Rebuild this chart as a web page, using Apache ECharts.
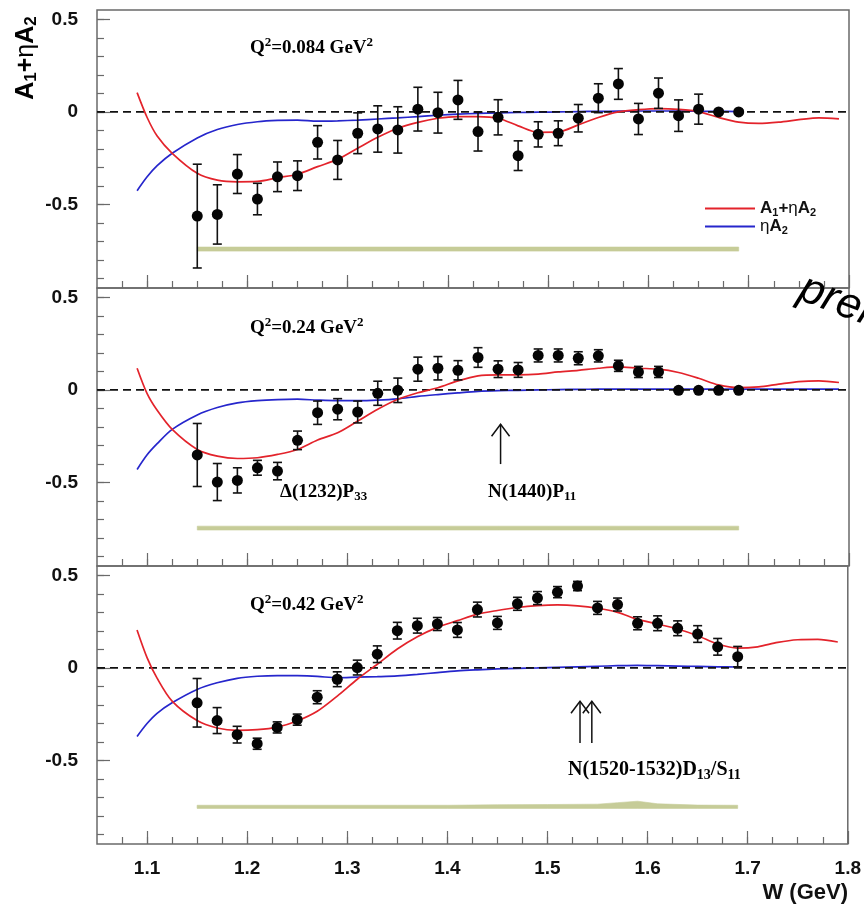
<!DOCTYPE html>
<html>
<head>
<meta charset="utf-8">
<script src="https://cdn.jsdelivr.net/npm/echarts@6/dist/echarts.min.js"></script>
<style>
  html, body { margin: 0; padding: 0; background: #fff; }
  #chart { width: 864px; height: 910px; }
</style>
</head>
<body>
<div id="chart"></div>
<script>
// ---- measured asymmetry points (W in GeV) ----
const W_PTS = [1.15, 1.17, 1.19, 1.21, 1.23, 1.25, 1.27, 1.29, 1.31, 1.33, 1.35, 1.37, 1.39, 1.41,
               1.43, 1.45, 1.47, 1.49, 1.51, 1.53, 1.55, 1.57, 1.59, 1.61, 1.63, 1.65, 1.67, 1.69];

const Q084_VAL = [-0.562, -0.553, -0.335, -0.470, -0.350, -0.344, -0.164, -0.259, -0.115, -0.092,
                  -0.097, 0.015, -0.004, 0.065, -0.106, -0.029, -0.236, -0.121, -0.115, -0.034,
                  0.074, 0.151, -0.038, 0.101, -0.020, 0.015, 0.000, 0.000];
const Q084_ERR = [0.280, 0.160, 0.105, 0.085, 0.080, 0.080, 0.090, 0.105, 0.110, 0.125,
                  0.125, 0.118, 0.110, 0.105, 0.105, 0.095, 0.080, 0.068, 0.067, 0.074,
                  0.078, 0.083, 0.084, 0.082, 0.085, 0.081, 0.010, 0.010];

const Q024_VAL = [-0.351, -0.497, -0.488, -0.420, -0.438, -0.272, -0.123, -0.104, -0.119, -0.018,
                  -0.002, 0.112, 0.117, 0.106, 0.175, 0.112, 0.108, 0.186, 0.186, 0.171,
                  0.184, 0.130, 0.097, 0.097, -0.002, -0.002, -0.002, -0.002];
const Q024_ERR = [0.170, 0.100, 0.068, 0.040, 0.047, 0.050, 0.063, 0.057, 0.059, 0.065,
                  0.066, 0.065, 0.063, 0.052, 0.053, 0.045, 0.040, 0.035, 0.035, 0.035,
                  0.033, 0.030, 0.030, 0.030, 0.010, 0.010, 0.010, 0.010];

const Q042_VAL = [-0.188, -0.284, -0.360, -0.409, -0.321, -0.279, -0.158, -0.061, 0.002, 0.074,
                  0.201, 0.228, 0.237, 0.205, 0.315, 0.243, 0.346, 0.377, 0.409, 0.442,
                  0.324, 0.342, 0.241, 0.241, 0.214, 0.183, 0.114, 0.061];
const Q042_ERR = [0.131, 0.070, 0.045, 0.030, 0.030, 0.030, 0.035, 0.040, 0.040, 0.045,
                  0.045, 0.040, 0.035, 0.040, 0.040, 0.035, 0.035, 0.035, 0.030, 0.025,
                  0.035, 0.035, 0.035, 0.040, 0.040, 0.045, 0.045, 0.055];

// ---- model curves (A1+eta*A2 in red, eta*A2 in blue) ----
const W_MODEL = [1.09, 1.10, 1.11, 1.125, 1.15, 1.17, 1.19, 1.21, 1.23, 1.25, 1.27, 1.29, 1.31,
                 1.33, 1.35, 1.37, 1.39, 1.41, 1.43, 1.45, 1.47, 1.49, 1.51, 1.53, 1.55, 1.57,
                 1.59, 1.61, 1.63, 1.65, 1.67, 1.69, 1.71, 1.73, 1.75, 1.77, 1.79];

const RED_084 = [0.104, -0.030, -0.130, -0.223, -0.331, -0.368, -0.377, -0.375, -0.355, -0.336,
                 -0.295, -0.256, -0.196, -0.137, -0.088, -0.056, -0.034, -0.025, -0.025, -0.034,
                 -0.075, -0.110, -0.108, -0.070, -0.030, 0.000, 0.012, 0.018, 0.014, 0.002,
                 -0.030, -0.055, -0.062, -0.055, -0.042, -0.032, -0.037];
const BLUE_084 = [-0.425, -0.350, -0.290, -0.223, -0.140, -0.095, -0.068, -0.053, -0.046, -0.044,
                  -0.050, -0.048, -0.044, -0.038, -0.032, -0.025, -0.018, -0.012, -0.008, -0.005,
                  -0.003, -0.001, 0.000, 0.002, 0.003, 0.004, 0.005, 0.005, 0.005, 0.004,
                  0.003, 0.002];

const RED_024 = [0.117, -0.020, -0.110, -0.213, -0.321, -0.357, -0.370, -0.366, -0.348, -0.321,
                 -0.270, -0.231, -0.168, -0.104, -0.050, -0.015, 0.012, 0.049, 0.076, 0.081,
                 0.081, 0.085, 0.097, 0.106, 0.117, 0.124, 0.117, 0.112, 0.094, 0.063,
                 0.027, 0.012, 0.016, 0.031, 0.045, 0.049, 0.040];
const BLUE_024 = [-0.429, -0.350, -0.290, -0.213, -0.135, -0.095, -0.070, -0.058, -0.052, -0.050,
                  -0.055, -0.058, -0.058, -0.055, -0.048, -0.035, -0.025, -0.016, -0.008, -0.004,
                  -0.002, 0.000, 0.002, 0.003, 0.004, 0.004, 0.004, 0.004, 0.004, 0.004,
                  0.004, 0.004, 0.004, 0.004, 0.004, 0.004, 0.004];

const RED_042 = [0.205, 0.056, -0.055, -0.179, -0.284, -0.324, -0.337, -0.333, -0.319, -0.286,
                 -0.234, -0.152, -0.061, 0.020, 0.102, 0.168, 0.219, 0.255, 0.290, 0.310,
                 0.326, 0.336, 0.340, 0.335, 0.322, 0.300, 0.262, 0.237, 0.210, 0.174,
                 0.129, 0.107, 0.114, 0.138, 0.152, 0.154, 0.140];
const BLUE_042 = [-0.370, -0.300, -0.245, -0.188, -0.116, -0.080, -0.056, -0.045, -0.041, -0.042,
                  -0.046, -0.053, -0.050, -0.047, -0.043, -0.035, -0.025, -0.016, -0.010, -0.005,
                  -0.002, 0.000, 0.003, 0.006, 0.009, 0.012, 0.014, 0.012, 0.010, 0.008,
                  0.006, 0.005];

// ---- systematic error bands ----
const W_BAND = [1.15, 1.20, 1.25, 1.30, 1.35, 1.40, 1.45, 1.50, 1.55, 1.57, 1.59, 1.61, 1.65, 1.69];
const BAND_084_HI = [-0.729, -0.729, -0.729, -0.729, -0.729, -0.729, -0.729, -0.729, -0.729, -0.729, -0.729, -0.729, -0.729, -0.729];
const BAND_084_LO = [-0.751, -0.751, -0.751, -0.751, -0.751, -0.751, -0.751, -0.751, -0.751, -0.751, -0.751, -0.751, -0.751, -0.751];
const BAND_024_HI = [-0.735, -0.735, -0.735, -0.735, -0.735, -0.735, -0.735, -0.735, -0.735, -0.735, -0.735, -0.735, -0.735, -0.735];
const BAND_024_LO = [-0.756, -0.756, -0.756, -0.756, -0.756, -0.756, -0.756, -0.756, -0.756, -0.756, -0.756, -0.756, -0.756, -0.756];
const BAND_042_HI = [-0.741, -0.741, -0.741, -0.741, -0.741, -0.741, -0.738, -0.737, -0.735, -0.727, -0.719, -0.733, -0.740, -0.741];
const BAND_042_LO = [-0.758, -0.758, -0.758, -0.758, -0.758, -0.758, -0.758, -0.758, -0.758, -0.758, -0.758, -0.758, -0.758, -0.758];

// ---- resonance markers: [W, arrow tail, arrow tip] ----
const ARROWS_024 = [[1.4525, -0.400, -0.185]];
const ARROWS_042 = [[1.5325, -0.405, -0.180], [1.5443, -0.405, -0.180]];

// ---- axis ticks ----
const X_MAJOR = [1.1, 1.2, 1.3, 1.4, 1.5, 1.6, 1.7, 1.8];
const X_MINOR = [1.075, 1.1, 1.125, 1.15, 1.175, 1.2, 1.225, 1.25, 1.275, 1.3, 1.325, 1.35, 1.375,
                 1.4, 1.425, 1.45, 1.475, 1.5, 1.525, 1.55, 1.575, 1.6, 1.625, 1.65, 1.675, 1.7,
                 1.725, 1.75, 1.775];
const Y_MAJOR = [-0.5, 0, 0.5];
const Y_MINOR = [-0.9, -0.8, -0.7, -0.6, -0.5, -0.4, -0.3, -0.2, -0.1, 0, 0.1, 0.2, 0.3, 0.4, 0.5];

const PANELS = [
  { val: Q084_VAL, err: Q084_ERR, red: RED_084, blue: BLUE_084, hi: BAND_084_HI, lo: BAND_084_LO, arrows: [] },
  { val: Q024_VAL, err: Q024_ERR, red: RED_024, blue: BLUE_024, hi: BAND_024_HI, lo: BAND_024_LO, arrows: ARROWS_024 },
  { val: Q042_VAL, err: Q042_ERR, red: RED_042, blue: BLUE_042, hi: BAND_042_HI, lo: BAND_042_LO, arrows: ARROWS_042 }
];

const RED = '#e3232b';
const BLUE = '#2626cc';
const FRAME = '#6a6a6a';
const SANS = '"Liberation Sans", Arial, sans-serif';
const SERIF = '"Liberation Serif", "Times New Roman", serif';

const GRID_TOPS = [10, 288, 566];
const GRID_H = 278;

const grids = GRID_TOPS.map(t => ({
  left: 97, width: 752, top: t, height: GRID_H,
  show: true, borderColor: FRAME, borderWidth: 1.5, backgroundColor: 'transparent'
}));

const xAxes = [];
const yAxes = [];
for (let i = 0; i < 3; i++) {
  xAxes.push({
    type: 'value', gridIndex: i, min: 1.05, max: 1.8, position: 'bottom',
    axisLine: { show: false, onZero: false }, splitLine: { show: false },
    axisTick: { inside: true, length: 13, customValues: X_MAJOR, lineStyle: { color: FRAME, width: 1.2 } },
    axisLabel: {
      show: i === 2, customValues: X_MAJOR, margin: 15,
      formatter: v => v.toFixed(1),
      fontFamily: SANS, fontWeight: 'bold', fontSize: 19, color: '#111'
    }
  });
}
for (let i = 0; i < 3; i++) {
  xAxes.push({
    type: 'value', gridIndex: i, min: 1.05, max: 1.8, position: 'bottom', offset: 0,
    axisLine: { show: false, onZero: false }, splitLine: { show: false },
    axisTick: { inside: true, length: 7, customValues: X_MINOR, lineStyle: { color: FRAME, width: 1.2 } },
    axisLabel: { show: false }
  });
}
for (let i = 0; i < 3; i++) {
  yAxes.push({
    type: 'value', gridIndex: i, min: -0.95, max: 0.55, position: 'left',
    axisLine: { show: false, onZero: false }, splitLine: { show: false },
    axisTick: { inside: true, length: 13, customValues: Y_MAJOR, lineStyle: { color: FRAME, width: 1.2 } },
    axisLabel: {
      customValues: Y_MAJOR, margin: 19,
      formatter: v => (v === 0 ? '0' : String(v)),
      fontFamily: SANS, fontWeight: 'bold', fontSize: 19, color: '#111'
    }
  });
}
for (let i = 0; i < 3; i++) {
  yAxes.push({
    type: 'value', gridIndex: i, min: -0.95, max: 0.55, position: 'left', offset: 0,
    axisLine: { show: false, onZero: false }, splitLine: { show: false },
    axisTick: { inside: true, length: 7, customValues: Y_MINOR, lineStyle: { color: FRAME, width: 1.2 } },
    axisLabel: { show: false }
  });
}

function errorBarRender(params, api) {
  const x = api.value(0), y = api.value(1), e = api.value(2);
  const top = api.coord([x, y + e]);
  const bot = api.coord([x, y - e]);
  const cap = 4.5;
  const st = { stroke: '#111', lineWidth: 1.6 };
  return {
    type: 'group',
    children: [
      { type: 'line', shape: { x1: top[0], y1: top[1], x2: bot[0], y2: bot[1] }, style: st },
      { type: 'line', shape: { x1: top[0] - cap, y1: top[1], x2: top[0] + cap, y2: top[1] }, style: st },
      { type: 'line', shape: { x1: bot[0] - cap, y1: bot[1], x2: bot[0] + cap, y2: bot[1] }, style: st }
    ]
  };
}

function bandRender(hi, lo) {
  return function (params, api) {
    const pts = [];
    for (let k = 0; k < W_BAND.length; k++) pts.push(api.coord([W_BAND[k], hi[k]]));
    for (let k = W_BAND.length - 1; k >= 0; k--) pts.push(api.coord([W_BAND[k], lo[k]]));
    return { type: 'polygon', shape: { points: pts }, style: { fill: '#c6cc98', stroke: '#c6cc98', lineWidth: 0.6 } };
  };
}

function arrowRender(params, api) {
  const x = api.value(0);
  const tail = api.coord([x, api.value(1)]);
  const tip = api.coord([x, api.value(2)]);
  const st = { stroke: '#111', lineWidth: 1.5, fill: null };
  return {
    type: 'group',
    children: [
      { type: 'line', shape: { x1: tail[0], y1: tail[1], x2: tip[0], y2: tip[1] }, style: st },
      { type: 'polyline', shape: { points: [[tip[0] - 9, tip[1] + 12], tip, [tip[0] + 9, tip[1] + 12]] }, style: st }
    ]
  };
}

const series = [];
PANELS.forEach((p, i) => {
  series.push({
    type: 'custom', name: 'band' + i, xAxisIndex: i, yAxisIndex: i, z: 1,
    data: [[W_BAND[0], p.hi[0]]], renderItem: bandRender(p.hi, p.lo), silent: true
  });
  series.push({
    type: 'line', name: 'ηA2', xAxisIndex: i, yAxisIndex: i, z: 2, color: BLUE,
    data: p.blue.map((v, k) => [W_MODEL[k], v]), smooth: 0.3, showSymbol: false,
    lineStyle: { color: BLUE, width: 1.7 }
  });
  series.push({
    type: 'line', name: 'zero' + i, xAxisIndex: i, yAxisIndex: i, z: 3,
    data: [[1.05, 0], [1.8, 0]], showSymbol: false, silent: true,
    lineStyle: { color: '#111', width: 1.7, type: [8, 5] }
  });
  series.push({
    type: 'line', name: 'A1+ηA2', xAxisIndex: i, yAxisIndex: i, z: 4, color: RED,
    data: p.red.map((v, k) => [W_MODEL[k], v]), smooth: 0.3, showSymbol: false,
    lineStyle: { color: RED, width: 1.7 }
  });
  series.push({
    type: 'custom', name: 'err' + i, xAxisIndex: i, yAxisIndex: i, z: 5,
    data: W_PTS.map((w, k) => [w, p.val[k], p.err[k]]), renderItem: errorBarRender,
    encode: { x: 0, y: 1 }
  });
  series.push({
    type: 'scatter', name: 'data' + i, xAxisIndex: i, yAxisIndex: i, z: 6,
    data: W_PTS.map((w, k) => [w, p.val[k]]), symbol: 'circle', symbolSize: 11,
    itemStyle: { color: '#050505', opacity: 1 }
  });
  if (p.arrows.length) {
    series.push({
      type: 'custom', name: 'res' + i, xAxisIndex: i, yAxisIndex: i, z: 5,
      data: p.arrows, renderItem: arrowRender, encode: { x: 0, y: 1 }
    });
  }
});

const serifRich = (size) => ({
  q: { fontFamily: SERIF, fontWeight: 'bold', fontSize: size, color: '#111', lineHeight: size + 4 },
  p: { fontFamily: SERIF, fontWeight: 'bold', fontSize: Math.round(size * 0.68), color: '#111', verticalAlign: 'top', lineHeight: size + 4, padding: [0, 0, 8, 0] },
  s: { fontFamily: SERIF, fontWeight: 'bold', fontSize: Math.round(size * 0.68), color: '#111', verticalAlign: 'bottom', lineHeight: size + 4, padding: [8, 0, 0, 0] }
});

function serifText(x, y, text, size) {
  return { type: 'text', x: x, y: y, z: 100, style: { text: text, rich: serifRich(size), verticalAlign: 'middle', align: 'left' } };
}

const sansRich = (size) => ({
  a: { fontFamily: SANS, fontWeight: 'bold', fontSize: size, color: '#111', lineHeight: size + 2 },
  e: { fontFamily: SANS, fontWeight: 'normal', fontSize: size, color: '#111', lineHeight: size + 2 },
  s: { fontFamily: SANS, fontWeight: 'bold', fontSize: Math.round(size * 0.66), color: '#111', verticalAlign: 'bottom', lineHeight: size + 2, padding: [Math.round(size * 0.35), 0, 0, 0] }
});

const option = {
  animation: false,
  backgroundColor: '#fff',
  grid: grids,
  xAxis: xAxes,
  yAxis: yAxes,
  legend: {
    data: [{ name: 'A1+ηA2', icon: 'rect' }, { name: 'ηA2', icon: 'rect' }],
    orient: 'vertical', left: 700, top: 195, itemWidth: 50, itemHeight: 2, itemGap: 0,
    selectedMode: false,
    formatter: n => (n === 'A1+ηA2' ? '{a|A}{s|1}{a|+}{e|η}{a|A}{s|2}' : '{e|η}{a|A}{s|2}'),
    textStyle: { rich: sansRich(17) }
  },
  graphic: [
    serifText(250, 48, '{q|Q}{p|2}{q|=0.084 GeV}{p|2}', 19),
    serifText(250, 328, '{q|Q}{p|2}{q|=0.24 GeV}{p|2}', 19),
    serifText(250, 605, '{q|Q}{p|2}{q|=0.42 GeV}{p|2}', 19),
    serifText(280, 492, '{q|Δ(1232)P}{s|33}', 19),
    serifText(488, 492, '{q|N(1440)P}{s|11}', 19),
    serifText(568, 770, '{q|N(1520-1532)D}{s|13}{q|/S}{s|11}', 20),
    {
      type: 'text', x: 26, y: 58, rotation: Math.PI / 2, z: 100,
      style: { text: '{a|A}{s|1}{a|+}{e|η}{a|A}{s|2}', rich: sansRich(25), align: 'center', verticalAlign: 'middle' }
    },
    {
      type: 'text', x: 848, y: 893, z: 100,
      style: { text: 'W (GeV)', font: 'bold 22px ' + SANS, fill: '#111', align: 'right', verticalAlign: 'middle' }
    },
    {
      type: 'text', x: 793, y: 308, rotation: -0.36, z: 100,
      style: { text: 'preliminary', font: 'italic 44px ' + SANS, fill: '#000', align: 'left', verticalAlign: 'bottom' }
    }
  ],
  series: series
};

const chart = echarts.init(document.getElementById('chart'), null, { renderer: 'canvas' });
chart.setOption(option);
</script>
</body>
</html>
